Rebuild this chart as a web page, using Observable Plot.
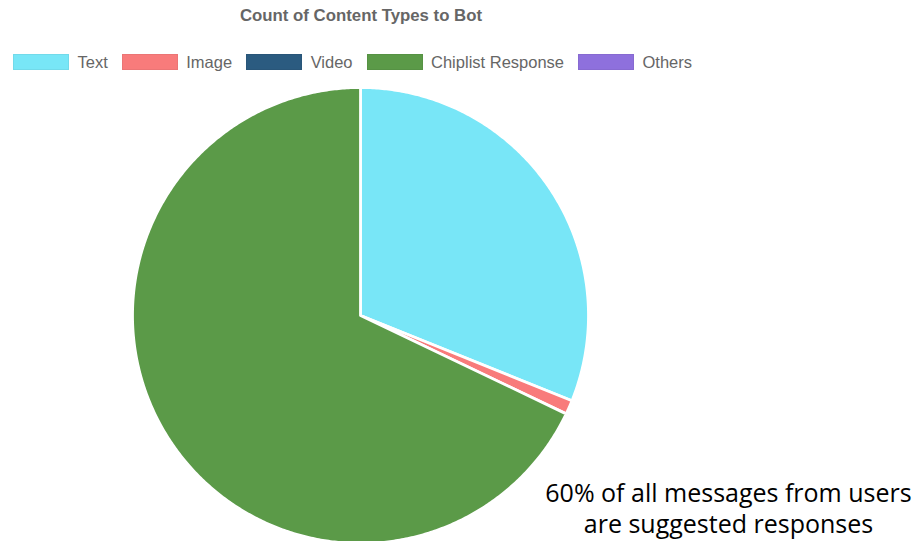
<!DOCTYPE html>
<html>
<head>
<meta charset="utf-8">
<script src="https://cdn.jsdelivr.net/npm/d3@7"></script>
<script src="https://cdn.jsdelivr.net/npm/@observablehq/plot@0.6"></script>
<style>
  html, body { margin: 0; padding: 0; background: #fff; }
  #wrap { position: relative; width: 920px; height: 541px; overflow: hidden; }
  #head { position: relative; width: 920px; height: 80px; font-family: "Liberation Sans", Arial, sans-serif; color: #666; }
  #title { position: absolute; left: 0; top: 6px; width: 722px; text-align: center; font-size: 16.8px; font-weight: bold; line-height: 20px; }
  #legend { position: absolute; left: 13px; top: 52px; display: flex; align-items: center; height: 20px; font-size: 16.5px; line-height: 20px; white-space: nowrap; }
  .item { display: flex; align-items: center; margin-right: 14px; }
  .sw { width: 56px; height: 16px; margin-right: 8.5px; box-sizing: border-box; }
  svg { display: block; }
</style>
</head>
<body>
<div id="wrap">
  <div id="head">
    <div id="title"></div>
    <div id="legend"></div>
  </div>
  <div id="chart"></div>
</div>
<script>
// ---- data ----
const chartTitle = "Count of Content Types to Bot";
const categories = ["Text", "Image", "Video", "Chiplist Response", "Others"];
const values = [31.1, 1.0, 0, 67.9, 0];
const colors = ["#78e6f7", "#f87b7b", "#2b5b80", "#5b9a48", "#8e70dd"];
const annotationLines = ["60% of all messages from users", "are suggested responses"];

// ---- layout constants ----
const W = 920, H = 461;          // svg size
const CX = 360, CY = 235, R = 228; // pie centre / radius in svg pixels

document.getElementById("title").textContent = chartTitle;
const leg = document.getElementById("legend");
categories.forEach((c, i) => {
  const it = document.createElement("div");
  it.className = "item";
  const sw = document.createElement("div");
  sw.className = "sw";
  sw.style.background = colors[i];
  sw.style.border = "1px solid " + d3.color(colors[i]).darker(0.15);
  const lb = document.createElement("span");
  lb.textContent = c;
  it.appendChild(sw); it.appendChild(lb);
  leg.appendChild(it);
});

// pie geometry (unit radius) from the values
const arcs = d3.pie().sort(null).value(d => d)(values);
const pts = [];
arcs.forEach((a, i) => {
  if (a.endAngle - a.startAngle <= 0) return;
  const cat = categories[i];
  pts.push({cat, u: 0, v: 0});
  const n = Math.max(2, Math.ceil((a.endAngle - a.startAngle) / (Math.PI / 360)));
  for (let k = 0; k <= n; k++) {
    const t = a.startAngle + (a.endAngle - a.startAngle) * k / n;
    pts.push({cat, u: Math.sin(t), v: Math.cos(t)});
  }
});

const plot = Plot.plot({
  width: W,
  height: H,
  margin: 0,
  x: {domain: [-CX / R, (W - CX) / R], axis: null},
  y: {domain: [-(H - CY) / R, CY / R], axis: null},
  color: {domain: categories, range: colors},
  marks: [
    Plot.line(pts, {
      x: "u", y: "v", z: "cat", fill: "cat",
      stroke: "white", strokeWidth: 2.8, curve: "linear-closed"
    }),
    Plot.text([annotationLines.join("\n")], {
      frameAnchor: "top-left", dx: 728, dy: 399,
      text: d => d, textAnchor: "middle", lineAnchor: "top",
      fontSize: 25, lineHeight: 1.24, fill: "#000",
      fontFamily: "Open Sans, sans-serif"
    })
  ]
});
plot.style.fontFamily = "Open Sans, sans-serif";
document.getElementById("chart").appendChild(plot);
</script>
</body>
</html>
